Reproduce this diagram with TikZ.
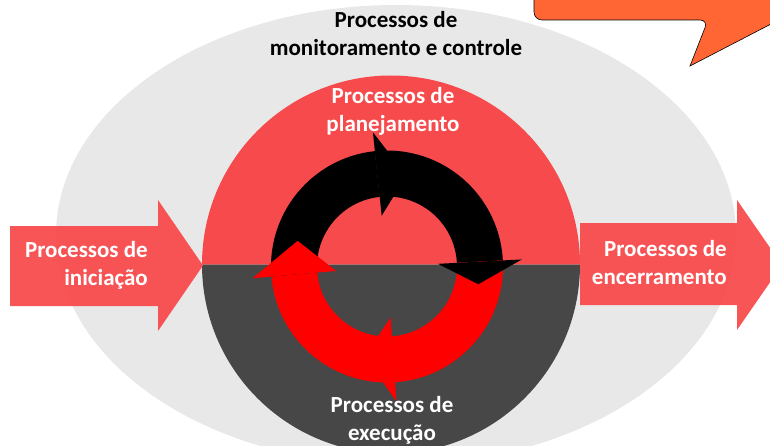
\documentclass[tikz,border=0pt]{standalone}
\usepackage{fontspec}
\setmainfont{Carlito}
\usepackage{xcolor}
\usetikzlibrary{positioning}
\definecolor{monitgray}{RGB}{232,232,232}
\definecolor{planred}{RGB}{246,74,76}
\definecolor{execgray}{RGB}{71,71,71}
\definecolor{cyclered}{RGB}{255,0,0}
\definecolor{sidered}{RGB}{248,76,78}
\definecolor{noteorange}{RGB}{255,102,51}
\tikzstyle{sidearrow} = [fill=sidered, fill opacity=0.95]

\begin{document}
\begin{tikzpicture}[x=1pt, y=1pt,
            proctext/.style={font=\bfseries\fontsize{23}{28}\selectfont, align=center, inner sep=0pt}]

            \useasboundingbox (0,0) rectangle (770,445);
            \clip (0,0) rectangle (770,445);

            % Monitoring ellipse
            \fill[monitgray] (396,210) ellipse[x radius=340, y radius=230];

            % Planning / execution disc
            \fill[planred] (202,180.5) arc[start angle=180, end angle=0, radius=189] -- cycle;
            \fill[execgray] (580,180.5) arc[start angle=0, end angle=-180, radius=189] -- cycle;

            % Cycle arrows
            \begin{scope}[shift={(387,178.5)}]
                \foreach \a/\b/\t/\col in {185/96/78/black, 96/3/-11/black, 3/-86/-104/cyclered, -86/-175/-196/cyclered}
                    \fill[\col] (\a:116) arc[start angle=\a, end angle=\b, radius=116] -- (\b:70) arc[start angle=\b, end angle=\a, radius=70] -- cycle;
                \foreach \a/\b/\t/\col in {185/96/78/black, 96/3/-11/black, 3/-86/-104/cyclered, -86/-175/-196/cyclered}
                    \fill[\col] (\b:135) -- (\t:93) -- (\b:51) -- cycle;
            \end{scope}

            % Side arrows
            \fill[sidearrow] (10,219) -- (158,219) -- (158,245) -- (203,179.5) -- (158,114) -- (158,139) -- (10,139) -- cycle;
            \fill[sidearrow] (580,222) -- (737,222) -- (737,245) -- (782,180) -- (737,115) -- (737,140) -- (580,140) -- cycle;

            % Labels
            \node[proctext] (monit) at (396,411) {Processos de\\monitoramento e controle};
            \node[proctext, text=white] (plan) at (393,334) {Processos de\\planejamento};
            \node[proctext, text=white] (exec) at (392,25) {Processos de\\execução};
            \node[proctext, text=white, align=right, anchor=east] (init) at (148,180) {Processos de\\iniciação};
            \node[proctext, text=white, align=right, anchor=east] (close) at (727,182) {Processos de\\encerramento};

            % Callout
            \draw[fill=noteorange, draw=black, line width=0.6pt] (534,460) [rounded corners=8pt] -- (534,425) -- (708,425) [sharp corners] -- (690,379) -- (800,436) -- (800,460) -- cycle;
        \end{tikzpicture}
\end{document}
